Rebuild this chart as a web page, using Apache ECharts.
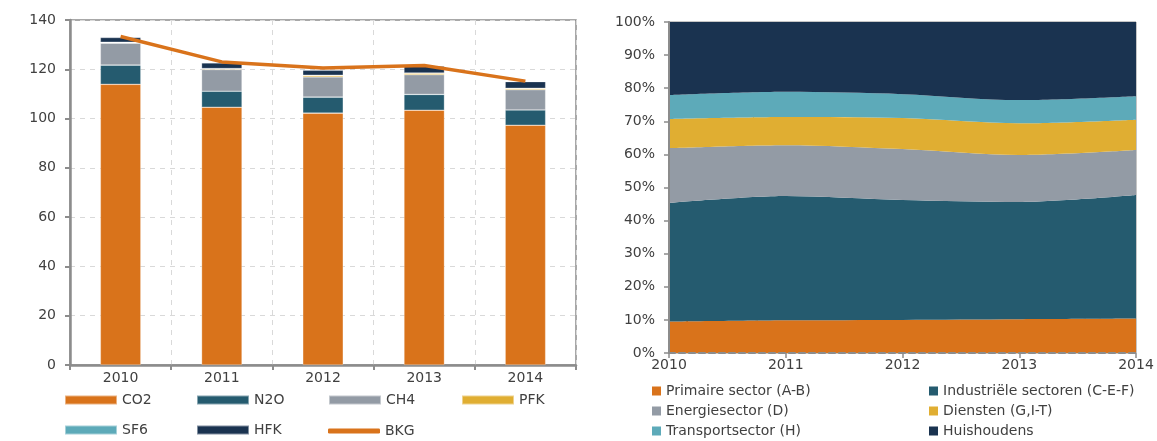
<!DOCTYPE html>
<html>
<head>
<meta charset="utf-8">
<script src="https://cdn.jsdelivr.net/npm/echarts@6/dist/echarts.min.js"></script>
<style>
html,body{margin:0;padding:0;background:#fff;}
#c{width:1157px;height:441px;}
</style>
</head>
<body>
<div id="c"></div>
<script>
// ---- Left chart data (emissions, index) ----
const years = ['2010','2011','2012','2013','2014'];
const co2 = [113.9, 104.6, 102.2, 103.4, 97.3];
const n2o = [7.8, 6.5, 6.5, 6.4, 6.2];
const ch4 = [8.9, 8.8, 8.2, 8.0, 8.2];
const pfk = [0.3, 0.3, 0.6, 0.6, 0.5];
const sf6 = [0.1, 0.1, 0.1, 0.1, 0.1];
const hfk = [1.9, 2.3, 2.0, 2.8, 2.7];
const bkg = [133.3, 123.0, 120.5, 121.5, 115.2];
const leftTicks = {min: 0, max: 140, interval: 20};

// ---- Right chart data (share per sector, %) ----
const sectorYears = ['2010','2011','2012','2013','2014'];
const primaire = [9.5, 9.9, 10.0, 10.2, 10.4];
const industrie = [35.8, 37.5, 36.2, 35.4, 37.3];
const energie = [16.6, 15.4, 15.4, 14.2, 13.6];
const diensten = [8.8, 8.5, 9.4, 9.6, 9.2];
const transport = [7.2, 7.6, 7.2, 7.0, 7.1];
const huishoudens = [22.1, 21.1, 21.8, 23.6, 22.4];

const C = {
  orange:'#D9731B', teal:'#255B6F', gray:'#939BA5', gold:'#E0AE32', lightblue:'#5DAAB9', navy:'#1A3350'
};
const FONT = 'DejaVu Sans';
const TXT = '#404040';
const AX = '#8c8c8c';

const chart = echarts.init(document.getElementById('c'), null, {renderer:'canvas'});

function barSeries(name, data, color){
  return {name, type:'bar', stack:'g', data, xAxisIndex:0, yAxisIndex:0, barWidth:'40%',
    itemStyle:{color, borderColor:'rgba(255,255,255,0.45)', borderWidth:0.6}};
}
function areaSeries(name, data, color){
  return {name, type:'line', stack:'s', data, xAxisIndex:1, yAxisIndex:1, smooth:0.3,
    symbol:'none', lineStyle:{width:0}, areaStyle:{color, opacity:1}, itemStyle:{color}};
}
const legTxt = {fontFamily:FONT, fontSize:14, color:TXT};
function leftLegend(name, left, top, isLine){
  return {data:[name], left, top, itemWidth:52, itemHeight: isLine?5:9, icon: isLine?'roundRect':'rect',
    itemGap:0, padding:0, textStyle:legTxt, selectedMode:false};
}
function rightLegend(name, left, top){
  return {data:[name], left, top, itemWidth:9, itemHeight:9, icon:'rect', itemGap:0, padding:0,
    textStyle:legTxt, selectedMode:false};
}

const option = {
  animation:false,
  textStyle:{fontFamily:FONT},
  grid:[
    {left:70, top:20, width:506, height:345, show:true, borderColor:AX, borderWidth:1.5, backgroundColor:'transparent'},
    {left:669, top:22, width:467, height:331, show:true, borderColor:AX, borderWidth:1, backgroundColor:'transparent'}
  ],
  xAxis:[
    {type:'category', gridIndex:0, data:years, boundaryGap:true,
      axisLine:{lineStyle:{color:AX, width:2.5}},
      axisTick:{show:true, length:5, lineStyle:{color:AX, width:2}},
      axisLabel:{color:TXT, fontSize:14, fontFamily:FONT, margin:6},
      splitLine:{show:true, lineStyle:{color:'#d9d9d9', type:[5,5], width:1}}},
    {type:'category', gridIndex:1, data:sectorYears, boundaryGap:false,
      axisLine:{lineStyle:{color:AX, width:2, type:[6,4]}},
      axisTick:{show:true, length:5, lineStyle:{color:AX, width:1.5}},
      axisLabel:{color:TXT, fontSize:14, fontFamily:FONT, margin:5},
      splitLine:{show:false}, z:10}
  ],
  yAxis:[
    {type:'value', gridIndex:0, min:leftTicks.min, max:leftTicks.max, interval:leftTicks.interval,
      axisLine:{show:true, lineStyle:{color:AX, width:2.5}},
      axisTick:{show:true, length:5, lineStyle:{color:AX, width:2}},
      axisLabel:{color:TXT, fontSize:14, fontFamily:FONT, margin:14},
      splitLine:{show:true, lineStyle:{color:'#d9d9d9', type:[5,5], width:1}}},
    {type:'value', gridIndex:1, min:0, max:100, interval:10,
      axisLine:{show:true, lineStyle:{color:AX, width:2}},
      axisTick:{show:true, length:5, lineStyle:{color:AX, width:1.5}},
      axisLabel:{color:TXT, fontSize:14, fontFamily:FONT, margin:14, formatter:'{value}%'},
      splitLine:{show:false}, z:10}
  ],
  legend:[
    leftLegend('CO2', 64, 393), leftLegend('N2O', 196, 393), leftLegend('CH4', 328, 393), leftLegend('PFK', 461, 393),
    leftLegend('SF6', 64, 423), leftLegend('HFK', 196, 423), leftLegend('BKG', 328, 424, true),
    rightLegend('Primaire sector (A-B)', 652, 384), rightLegend('Energiesector (D)', 652, 404), rightLegend('Transportsector (H)', 652, 424),
    rightLegend('Industriële sectoren (C-E-F)', 929, 384), rightLegend('Diensten (G,I-T)', 929, 404), rightLegend('Huishoudens', 929, 424)
  ],
  series:[
    barSeries('CO2', co2, C.orange),
    barSeries('N2O', n2o, C.teal),
    barSeries('CH4', ch4, C.gray),
    barSeries('PFK', pfk, C.gold),
    barSeries('SF6', sf6, C.lightblue),
    barSeries('HFK', hfk, C.navy),
    {name:'BKG', type:'line', data:bkg, xAxisIndex:0, yAxisIndex:0, symbol:'none',
      lineStyle:{color:C.orange, width:3.5}, itemStyle:{color:C.orange}, z:5},
    areaSeries('Primaire sector (A-B)', primaire, C.orange),
    areaSeries('Industriële sectoren (C-E-F)', industrie, C.teal),
    areaSeries('Energiesector (D)', energie, C.gray),
    areaSeries('Diensten (G,I-T)', diensten, C.gold),
    areaSeries('Transportsector (H)', transport, C.lightblue),
    areaSeries('Huishoudens', huishoudens, C.navy)
  ]
};
chart.setOption(option);
</script>
</body>
</html>
